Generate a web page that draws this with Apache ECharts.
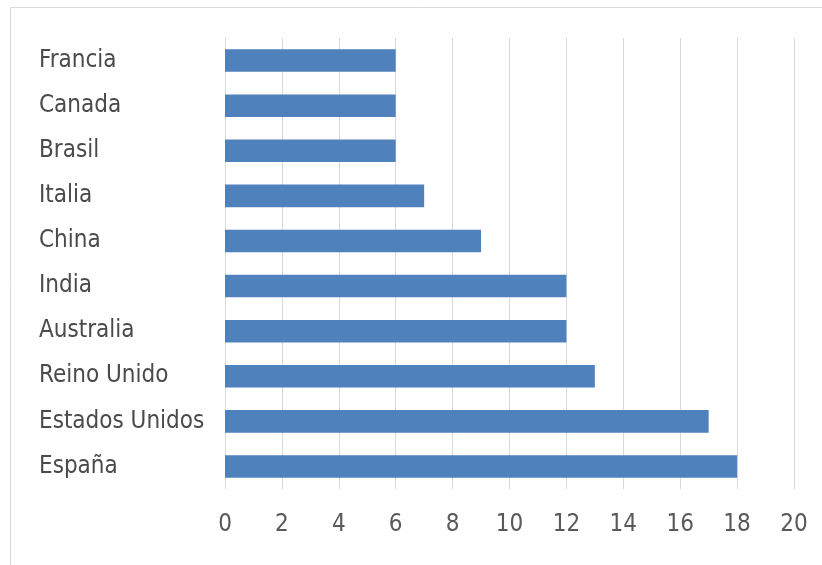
<!DOCTYPE html>
<html><head><meta charset="utf-8">
<script src="https://cdn.jsdelivr.net/npm/echarts@6/dist/echarts.min.js"></script>
<style>html,body{margin:0;padding:0;background:#fff}#c{width:822px;height:565px}</style>
</head><body><div id="c"></div>
<script>
const categories = ['España','Estados Unidos','Reino Unido','Australia','India','China','Italia','Brasil','Canada','Francia'];
const values = [18,17,13,12,12,9,7,6,6,6];
const xTicks = {min:0, max:20, interval:2};
const font = '"Liberation Sans Narrow","DejaVu Sans Condensed","Liberation Sans",sans-serif';
const chart = echarts.init(document.getElementById('c'));
chart.setOption({
  animation:false,
  grid:{left:225,right:28,top:38,bottom:76},
  graphic:[{type:'rect',shape:{x:10.5,y:7.5,width:900,height:700},style:{fill:'none',stroke:'#d9d9d9',lineWidth:1}}],
  xAxis:{type:'value',min:xTicks.min,max:xTicks.max,interval:xTicks.interval,
    axisLine:{show:false},axisTick:{show:false},
    splitLine:{lineStyle:{color:'#d9d9d9',width:1}},
    axisLabel:{color:'#595959',fontSize:24,fontFamily:font,margin:24}},
  yAxis:{type:'category',data:categories,
    axisLine:{show:false},axisTick:{show:false},
    axisLabel:{color:'#4a4a4a',fontSize:24,fontFamily:font,align:'left',margin:186,padding:[5,0,0,0]}},
  series:[{type:'bar',data:values,barCategoryGap:'50%',itemStyle:{color:'#4f81bd'}}]
});
</script></body></html>
